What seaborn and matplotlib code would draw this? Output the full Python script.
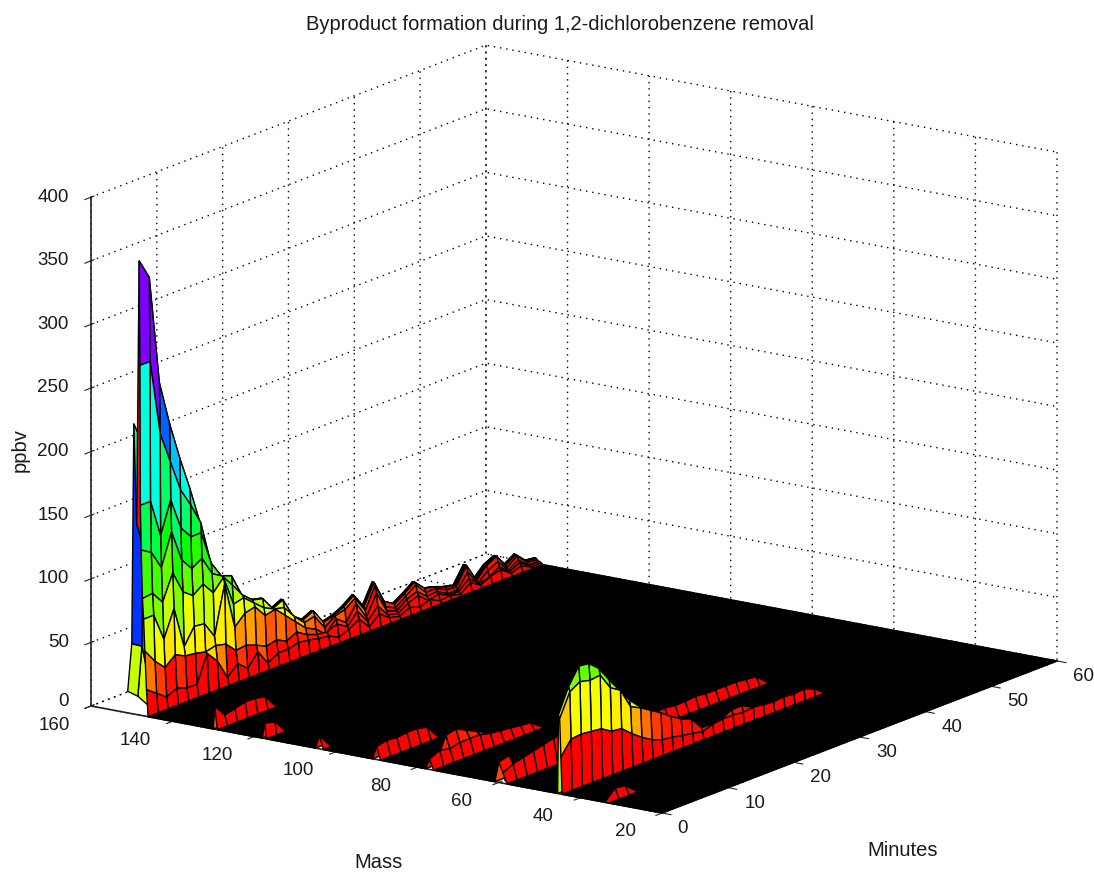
import numpy as np
import matplotlib
matplotlib.use("Agg")
import matplotlib.pyplot as plt
import seaborn as sns
from mpl_toolkits.mplot3d import proj3d

sns.set_style("white")
plt.rcParams['font.family'] = ['Liberation Sans', 'DejaVu Sans']

title_text = "Byproduct formation during 1,2-dichlorobenzene removal"
minute_ticks = [0, 10, 20, 30, 40, 50, 60]
mass_ticks = [20, 40, 60, 80, 100, 120, 140, 160]
ppbv_ticks = [0, 50, 100, 150, 200, 250, 300, 350, 400]
minutes = np.linspace(0, 60, 40)

# ppbv by mass row, starting from the first scan
m146_4 = [21,15,9,13,10,10,31,22,6,14,7,17,5,10,10,12,11,9,8,4,7,12,3,10,4,2,6,3,6,2,3,1,7,2,6,8,2,5,1,1]
m146_8 = [51,40,32,39,35,34,32,34,32,24,25,22,18,20,16,20,15,12,11,14,9,18,7,16,6,4,9,12,5,7,3,3,10,3,5,10,3,7,2,2]
m147_1 = [76,76,54,75,42,55,54,41,79,42,50,52,42,44,36,28,20,16,9,18,12,24,10,26,9,6,12,15,8,9,4,4,15,3,10,14,4,9,2,2]
m147_4 = [92,93,83,103,85,79,85,75,84,60,62,55,48,44,42,32,24,26,14,20,22,28,15,32,12,8,14,20,11,11,7,6,20,5,14,18,6,12,4,3]
m147_7 = [130,125,110,135,110,100,105,90,85,75,64,57,55,44,48,32,26,30,18,20,24,30,18,34,16,11,16,22,14,12,9,7,20,6,14,18,8,13,5,4]
m147_9 = [165,165,135,160,135,125,125,98,85,82,64,57,55,44,48,32,26,30,18,20,24,30,18,34,16,11,16,22,14,12,9,7,20,6,14,18,8,13,5,4]
m148_0 = [275,275,215,190,165,150,133,98,85,82,64,57,55,44,48,32,26,30,18,20,24,30,18,34,16,11,16,22,14,12,9,7,20,6,14,18,8,13,5,4]
m148_2 = [357,341,255,220,190,163,133,98,85,82,64,57,55,44,48,32,26,30,18,20,24,30,18,34,16,11,16,22,14,12,9,7,20,6,14,18,8,13,5,4]
m148_8 = [150,120,100,90,80,70,60,60,50,40,35,30,25,20,20,15,12,10,8,8,9,10,8,10,8,4,5,6,5,4,3,2,5,2,4,5,2,3,1,1]
m149_5 = [228,207,120,60,30,20,10,5]
m150_0 = [55,50,10]
m151_0 = [17,10]

m44_8 = [29,40,41,40,39,34,33,26,20,15,12,11,9,8,6,9,10,10,9,10,9,8,9,8,9,6]
m45_1 = [59,77,82,80,81,68,63,47,43,38,33,27,22,19,9,9,10,14,14,10,9,8,9,8,9,6]
m45_4 = [62,81,94,93,86,74,63,52,44,39,33,27,22,19,9,9,10,14,14,10,9,8,9,8,9,6]
m59_0 = [8,12,14,16,18,20,20,22,20,18,14,12,10,10,10,10,10,9,9,10,9,9,9,9,8,7]
m60_0 = [16,18]
m34_0 = [0,8,7]
m77_0 = [8,12,10,12,12,12,10,9,8,7,6]
m78_0 = [0,0,20,22,18,14,10]
m90_0 = [10,12,11,12,12,10]
m104_0 = [10]
m117_4 = [12,10]
m129_7 = [18,8,10,12,12,10]

series = {146.4: m146_4, 146.8: m146_8, 147.1: m147_1, 147.4: m147_4, 147.7: m147_7,
          147.9: m147_9, 148.0: m148_0, 148.2: m148_2, 148.8: m148_8, 149.5: m149_5,
          150.0: m150_0, 151.0: m151_0, 44.8: m44_8, 45.1: m45_1, 45.4: m45_4,
          59.0: m59_0, 60.0: m60_0, 34.0: m34_0, 77.0: m77_0, 78.0: m78_0, 90.0: m90_0,
          104.0: m104_0, 117.4: m117_4, 129.7: m129_7}

masses = set(np.arange(20.0, 147.0)) | set(series) | {44.5, 45.6}
masses = np.array(sorted(masses - {45.0}))
ppbv = np.zeros((len(masses), len(minutes)))
for m, vals in series.items():
    ppbv[np.where(masses == m)[0][0], :len(vals)] = vals

T, M = np.meshgrid(minutes, masses)
cmap = sns.color_palette("hsv", as_cmap=True)
ppbv_stops = [0, 10, 33, 95, 170, 275, 357]
hue_stops = [0, 0.01, 0.16, 0.30, 0.50, 0.76, 0.999]
colors = cmap(np.interp(ppbv, ppbv_stops, hue_stops))
flat = (ppbv[:-1, :-1] + ppbv[1:, :-1] + ppbv[:-1, 1:] + ppbv[1:, 1:]) == 0
colors[:-1, :-1][flat] = (0, 0, 0, 1)

W, H = 1094, 873
box = (690, 696, 528)
fig = plt.figure(figsize=(W / 100, H / 100), dpi=100, facecolor='white')
ax = fig.add_axes([0, 0, 1, 1], projection='3d', computed_zorder=False)
ax.set_proj_type('ortho')
ax.view_init(elev=15.58, azim=214.9)
ax.set_xlim(0, 60, view_margin=0)
ax.set_ylim(20, 160, view_margin=0)
ax.set_zlim(0, 400, view_margin=0)
ax.set_box_aspect(box, zoom=1.0)

# one strip per mass step, drawn from the back row to the front row
for order, i in enumerate(range(len(masses) - 2, -1, -1)):
    strip = ax.plot_surface(T[i:i + 2], M[i:i + 2], ppbv[i:i + 2], facecolors=colors[i:i + 2],
                            rstride=1, cstride=1, edgecolor='k', linewidth=1.0,
                            shade=False, antialiased=True, zorder=3 + order * 0.01)
    strip.set_clip_on(False)

ax.set_xticks(minute_ticks)
ax.set_yticks(mass_ticks)
ax.set_zticks(ppbv_ticks)
ax.set_xticklabels([])
ax.set_yticklabels([])
ax.set_zticklabels([])
for a in (ax.xaxis, ax.yaxis, ax.zaxis):
    a.set_pane_color((1, 1, 1, 0))
    a.pane.set_edgecolor((1, 1, 1, 0))
    a._axinfo['grid'].update(color='k', linestyle=(0, (1, 3.5)), linewidth=1.0)
    a.line.set_color('#222222')
    a.line.set_linewidth(1.2)


def pixels(p):
    x, y, _ = proj3d.proj_transform(p[0], p[1], p[2], ax.get_proj())
    return ax.transData.transform((x, y))


# fit the box corners to the reference frame
left_target = np.array([91.0, H - 706.0])
right_target = np.array([1057.0, H - 661.0])
zoom = 1.0
for _ in range(3):
    fig.canvas.draw()
    a = pixels((0, 160, 0))
    b = pixels((60, 20, 0))
    zoom *= (right_target[0] - left_target[0]) / (b[0] - a[0])
    ax.set_box_aspect(box, zoom=zoom)
    fig.canvas.draw()
    a = pixels((0, 160, 0))
    pos = ax.get_position()
    off = left_target - a
    ax.set_position([pos.x0 + off[0] / W, pos.y0 + off[1] / H, pos.width, pos.height])
fig.canvas.draw()

TICK_SIZE = 13.5
LABEL_SIZE = 14.5
INK = '#1a1a1a'
for m in mass_ticks:
    p = pixels((0, m, 0))
    fig.text((p[0] - 37) / W, (p[1] - 19) / H, str(m), ha='center', va='center', fontsize=TICK_SIZE, color=INK)
for t in minute_ticks:
    p = pixels((t, 20, 0))
    dx = 20 if t == 0 else 27
    fig.text((p[0] + dx) / W, (p[1] - 15.5) / H, str(t), ha='center', va='center', fontsize=TICK_SIZE, color=INK)
for z in ppbv_ticks:
    p = pixels((0, 160, z))
    dy = 4 if z == 0 else 0
    fig.text(69 / W, (p[1] + dy) / H, str(z), ha='right', va='center', fontsize=TICK_SIZE, color=INK)

fig.text(560 / W, 1 - 25 / H, title_text, ha='center', va='center', fontsize=LABEL_SIZE, color=INK)
fig.text(378 / W, 1 - 862 / H, "Mass", ha='center', va='center', fontsize=LABEL_SIZE, color=INK)
fig.text(903 / W, 1 - 851 / H, "Minutes", ha='center', va='center', fontsize=LABEL_SIZE, color=INK)
fig.text(20 / W, 1 - 450 / H, "ppbv", ha='center', va='center', rotation=90, fontsize=LABEL_SIZE, color=INK)

fig.savefig("out.png", dpi=100, facecolor='white')
